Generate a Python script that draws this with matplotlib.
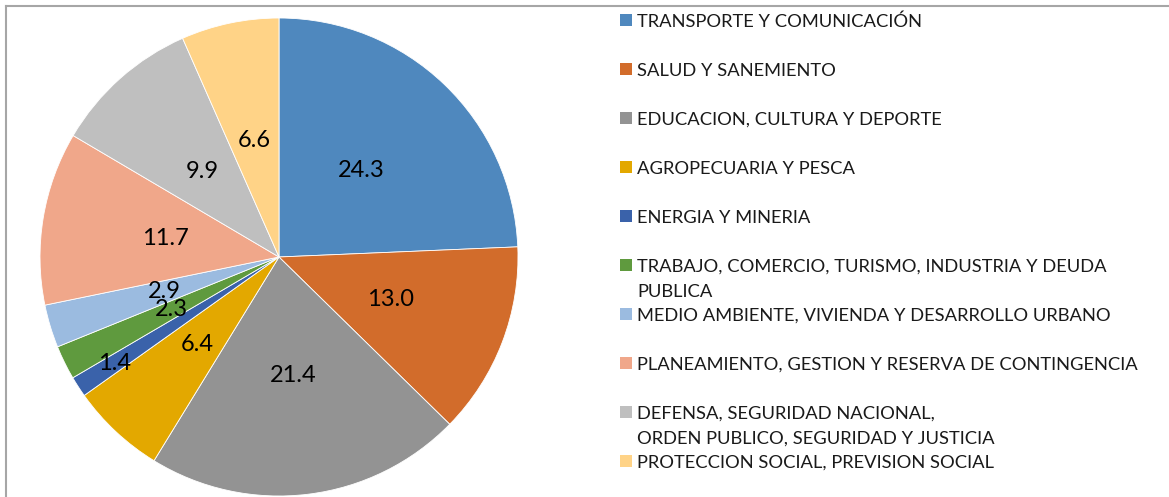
import matplotlib.pyplot as plt
from matplotlib.patches import Rectangle
from matplotlib.lines import Line2D

# sector shares (%)
sectores = [
    "TRANSPORTE Y COMUNICACIÓN",
    "SALUD Y SANEMIENTO",
    "EDUCACION, CULTURA Y DEPORTE",
    "AGROPECUARIA Y PESCA",
    "ENERGIA Y MINERIA",
    "TRABAJO, COMERCIO, TURISMO, INDUSTRIA Y DEUDA\nPUBLICA",
    "MEDIO AMBIENTE, VIVIENDA Y DESARROLLO URBANO",
    "PLANEAMIENTO, GESTION Y RESERVA DE CONTINGENCIA",
    "DEFENSA, SEGURIDAD NACIONAL,\nORDEN PUBLICO, SEGURIDAD Y JUSTICIA",
    "PROTECCION SOCIAL, PREVISION SOCIAL",
]
valores = [24.3, 13.0, 21.4, 6.4, 1.4, 2.3, 2.9, 11.7, 9.9, 6.6]
colores = ["#4F88BE", "#D26C2B", "#939393", "#E3A800", "#3A62AA",
           "#5F9A3E", "#9BBBE0", "#F0A78A", "#BFBFBF", "#FFD387"]
# distance of each value label from the centre (fraction of radius)
dist_etiqueta = [0.5, 0.5, 0.5, 0.5, 0.82, 0.5, 0.5, 0.48, 0.48, 0.5]

W, H = 1169, 497
fig = plt.figure(figsize=(W / 100, H / 100), dpi=100)
plt.rcParams['font.family'] = ['Lato', 'DejaVu Sans']

# pie centred at (279, 257) px, radius 239 px
cx, cy, r = 279, 257, 239
ax = fig.add_axes([(cx - r) / W, (H - cy - r) / H, 2 * r / W, 2 * r / H])
wedges, _ = ax.pie(valores, colors=colores, startangle=90, counterclock=False,
                   radius=1, wedgeprops=dict(edgecolor="white", linewidth=0.6))
ax.set_xlim(-1, 1)
ax.set_ylim(-1, 1)
ax.axis("off")

import numpy as np
for w, v, d in zip(wedges, valores, dist_etiqueta):
    ang = np.deg2rad((w.theta1 + w.theta2) / 2)
    ax.text(d * np.cos(ang), d * np.sin(ang), f"{v:.1f}",
            ha="center", va="center", fontsize=17, color="black")

# legend on the right
y0, paso = 20, 49.0
for i, (nombre, c) in enumerate(zip(sectores, colores)):
    yc = y0 + i * paso
    fig.add_artist(Rectangle((620 / W, 1 - (yc + 6) / H), 12 / W, 12 / H,
                             transform=fig.transFigure, facecolor=c, edgecolor="none"))
    for j, linea in enumerate(nombre.split("\n")):
        yb = yc + 7 + j * 25
        fig.text(637 / W, 1 - yb / H, linea, fontsize=13.2, color="#1a1a1a",
                 ha="left", va="baseline")

# chart border (top and left visible)
fig.add_artist(Line2D([6 / W, 1], [1 - 5.5 / H, 1 - 5.5 / H], transform=fig.transFigure,
                      color="#A6A6A6", linewidth=1.5))
fig.add_artist(Line2D([6 / W, 6 / W], [0, 1 - 5.5 / H], transform=fig.transFigure,
                      color="#A6A6A6", linewidth=1.5))

fig.savefig("out.png", dpi=100, facecolor="white")
